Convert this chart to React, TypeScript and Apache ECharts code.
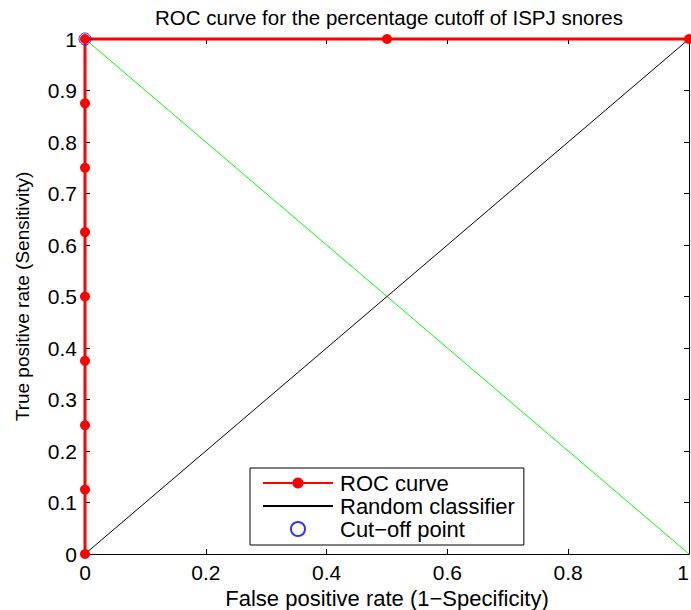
import React, { useEffect, useRef } from "react";
import * as echarts from "echarts";

const rocX = [0, 0, 0, 0, 0, 0, 0, 0, 0, 0.5, 1];
const rocY = [0, 0.125, 0.25, 0.375, 0.5, 0.625, 0.75, 0.875, 1, 1, 1];
const randomX = [0, 1];
const randomY = [0, 1];
const greenX = [0, 1];
const greenY = [1, 0];
const cutoff = [[0, 1]];

const FONT = "Liberation Sans";

export default function App() {
  const ref = useRef<HTMLDivElement>(null);
  useEffect(() => {
    if (!ref.current) return;
    const chart = echarts.init(ref.current, undefined, { renderer: "svg" });
    const pair = (xs: number[], ys: number[]) => xs.map((x, i) => [x, ys[i]]);
    const axisBase = {
      type: "value" as const,
      min: 0,
      max: 1,
      splitLine: { show: false },
      axisLine: { show: true, onZero: false, lineStyle: { color: "#000", width: 1 } },
      axisTick: { show: true, inside: true, length: 5, lineStyle: { color: "#000" } },
    };
    chart.setOption({
      animation: false,
      backgroundColor: "#fff",
      title: {
        text: "ROC curve for the percentage cutoff of ISPJ snores",
        left: 384,
        textAlign: "center",
        top: 2,
        textStyle: { fontFamily: FONT, fontSize: 20.5, fontWeight: "normal", color: "#000" },
      },
      grid: {
        left: 85,
        top: 39,
        right: 2,
        bottom: 56,
        containLabel: false,
        outerBoundsMode: "none",
      },
      xAxis: [
        {
          ...axisBase,
          position: "bottom",
          interval: 0.2,
          name: "False positive rate (1\u2212Specificity)",
          nameLocation: "middle",
          nameGap: 29,
          nameTextStyle: { fontFamily: FONT, fontSize: 22, lineHeight: 22, color: "#000" },
          axisLabel: {
            fontFamily: FONT,
            fontSize: 21,
            color: "#000",
            margin: 8,
            alignMaxLabel: "right",
          },
        },
        {
          ...axisBase,
          position: "top",
          interval: 0.2,
          axisLabel: { show: false },
        },
      ],
      yAxis: [
        {
          ...axisBase,
          position: "left",
          interval: 0.1,
          name: "True positive rate (Sensitivity)",
          nameLocation: "middle",
          nameGap: 53,
          nameTextStyle: { fontFamily: FONT, fontSize: 19, color: "#000" },
          axisLabel: { fontFamily: FONT, fontSize: 21, color: "#000", margin: 8 },
        },
        {
          ...axisBase,
          position: "right",
          interval: 0.1,
          axisLabel: { show: false },
        },
      ],
      legend: {
        orient: "vertical",
        left: 250,
        top: 468,
        backgroundColor: "#fff",
        borderColor: "#000",
        borderWidth: 1,
        borderRadius: 0,
        padding: [4, 9, 5, 12],
        itemGap: 1,
        itemWidth: 70,
        itemHeight: 14,
        textStyle: { fontFamily: FONT, fontSize: 22, color: "#000", padding: [0, 0, 0, 2] },
        data: [
          { name: "ROC curve" },
          { name: "Random classifier", itemStyle: { color: "rgba(0,0,0,0)", borderWidth: 0 } },
          { name: "Cut\u2212off point" },
        ],
      },
      series: [
        {
          name: "green",
          type: "line",
          data: pair(greenX, greenY),
          showSymbol: false,
          symbol: "none",
          lineStyle: { color: "#00ff00", width: 1 },
          itemStyle: { color: "#00ff00" },
          z: 2,
        },
        {
          name: "Random classifier",
          type: "line",
          data: pair(randomX, randomY),
          symbol: "none",
          lineStyle: { color: "#000", width: 1 },
          itemStyle: { color: "#000" },
          z: 2,
        },
        {
          name: "ROC curve",
          type: "line",
          data: pair(rocX, rocY),
          symbol: "circle",
          symbolSize: 10,
          lineStyle: { color: "#ff0000", width: 3 },
          itemStyle: { color: "#ff0000" },
          clip: false,
          z: 3,
        },
        {
          name: "Cut\u2212off point",
          type: "scatter",
          data: cutoff,
          symbol: "circle",
          symbolSize: 12,
          itemStyle: { color: "rgba(0,0,0,0)", borderColor: "#0000ff", borderWidth: 1 },
          clip: false,
          z: 4,
        },
      ],
    });
    return () => chart.dispose();
  }, []);
  return (
    <div
      ref={ref}
      style={{ position: "fixed", left: 0, top: 0, width: 691, height: 610 }}
    />
  );
}
